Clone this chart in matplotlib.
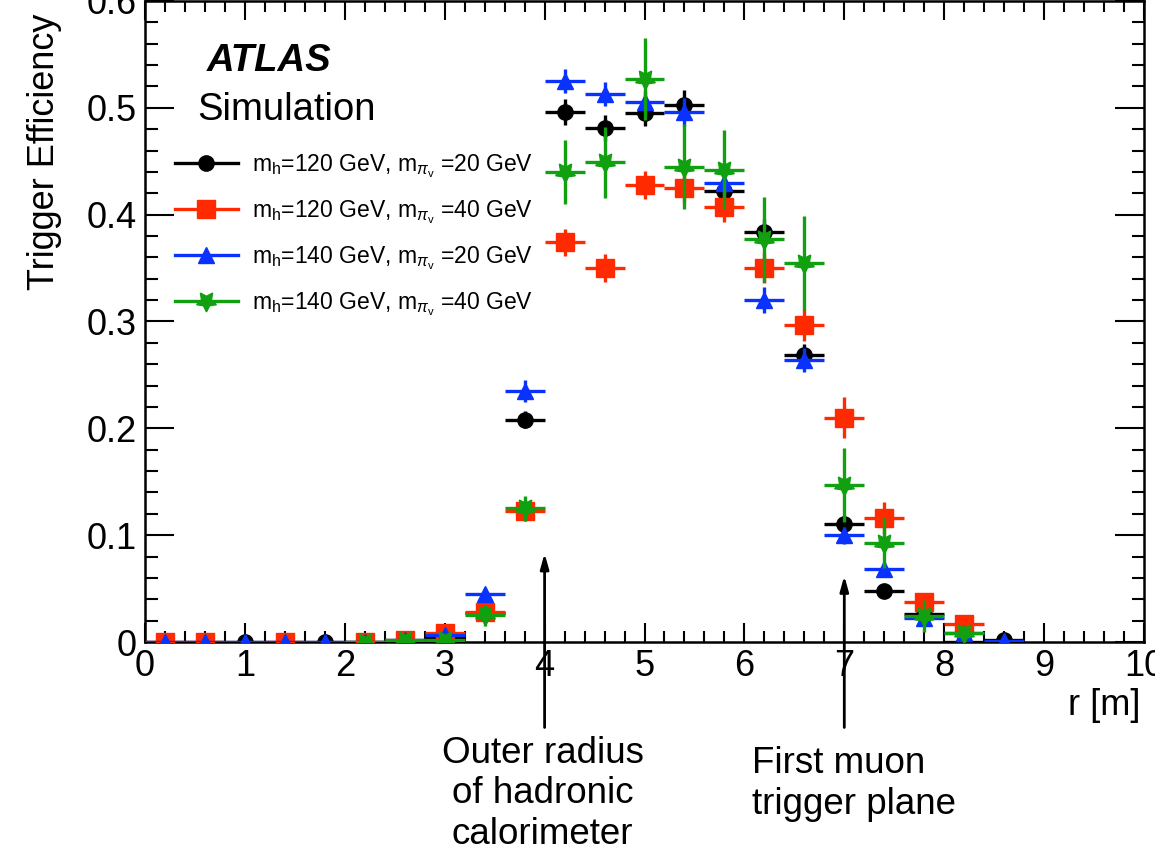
import numpy as np
import matplotlib
matplotlib.use("Agg")
import matplotlib.pyplot as plt
from matplotlib.lines import Line2D
from matplotlib.ticker import MultipleLocator

plt.rcParams["font.family"] = ["Liberation Sans", "DejaVu Sans"]
plt.rcParams["mathtext.fontset"] = "custom"
plt.rcParams["mathtext.rm"] = "Liberation Sans"
plt.rcParams["mathtext.it"] = "Liberation Sans:italic"
plt.rcParams["mathtext.bf"] = "Liberation Sans:bold"

nan = np.nan

# bin centres in r [m], bin half width 0.2 m
r = [0.2, 0.6, 1.0, 1.4, 1.8, 2.2, 2.6, 3.0, 3.4, 3.8, 4.2,
     4.6, 5.0, 5.4, 5.8, 6.2, 6.6, 7.0, 7.4, 7.8, 8.2, 8.6]
r_halfwidth = 0.2

# m_h=120, m_piv=20
eff_120_20 = [0, 0, 0, 0, 0, 0, 0.001, 0.004, 0.027, 0.208, 0.496,
              0.481, 0.495, 0.503, 0.422, 0.384, 0.269, 0.110, 0.048, 0.026, 0.0, 0.002]
err_120_20 = [0, 0, 0, 0, 0, 0, 0.002, 0.003, 0.006, 0.008, 0.012,
              0.012, 0.012, 0.014, 0.012, 0.012, 0.010, 0.008, 0.006, 0.004, 0.002, 0.002]

# m_h=120, m_piv=40
eff_120_40 = [0, 0, nan, 0, nan, 0, 0.002, 0.008, 0.028, 0.123, 0.374,
              0.350, 0.428, 0.425, 0.407, 0.350, 0.297, 0.210, 0.116, 0.037, 0.017, nan]
err_120_40 = [0, 0, 0, 0, 0, 0, 0.002, 0.004, 0.006, 0.010, 0.013,
              0.013, 0.013, 0.013, 0.014, 0.014, 0.015, 0.019, 0.015, 0.008, 0.005, 0]

# m_h=140, m_piv=20
eff_140_20 = [0, 0, 0, 0, 0, 0, 0.002, 0.007, 0.045, 0.235, 0.525,
              0.513, 0.505, 0.496, 0.430, 0.320, 0.264, 0.100, 0.068, 0.022, 0.008, 0.001]
err_140_20 = [0, 0, 0, 0, 0, 0, 0.002, 0.003, 0.006, 0.010, 0.011,
              0.011, 0.011, 0.013, 0.011, 0.012, 0.011, 0.008, 0.007, 0.004, 0.003, 0.001]

# m_h=140, m_piv=40
eff_140_40 = [nan, nan, nan, nan, nan, 0, 0.002, 0.002, 0.025, 0.125, 0.440,
              0.449, 0.527, 0.445, 0.442, 0.377, 0.355, 0.147, 0.093, 0.024, 0.008, nan]
err_140_40 = [0, 0, 0, 0, 0, 0.004, 0.004, 0.005, 0.010, 0.012, 0.030,
              0.033, 0.038, 0.040, 0.037, 0.040, 0.044, 0.035, 0.024, 0.015, 0.008, 0]

labels = [r"m$_{\mathrm{h}}$=120 GeV, m$_{\pi_{\mathrm{v}}}$ =20 GeV",
          r"m$_{\mathrm{h}}$=120 GeV, m$_{\pi_{\mathrm{v}}}$ =40 GeV",
          r"m$_{\mathrm{h}}$=140 GeV, m$_{\pi_{\mathrm{v}}}$ =20 GeV",
          r"m$_{\mathrm{h}}$=140 GeV, m$_{\pi_{\mathrm{v}}}$ =40 GeV"]
colors = ["#000000", "#ff2a00", "#0a32ff", "#10a010"]
markers = ["o", "s", "^", (5, 1, 180)]
msizes = [11, 13, 11, 15]

# detector landmarks
arrow_r = [4.0, 7.0]
arrow_tip = [0.083, 0.062]
arrow_base = -0.08

fig = plt.figure(figsize=(11.55, 8.55), dpi=100)
ax = fig.add_axes([145 / 1155, 213 / 855, 999 / 1155, 641 / 855])

series = [(eff_120_20, err_120_20), (eff_120_40, err_120_40),
          (eff_140_20, err_140_20), (eff_140_40, err_140_40)]
handles = []
for i, (eff, err) in enumerate(series):
    ax.errorbar(r, eff, xerr=r_halfwidth, yerr=err, fmt="none",
                ecolor=colors[i], elinewidth=2.4, capsize=0, zorder=2 + i)
    ax.plot(r, eff, linestyle="none", marker=markers[i], ms=msizes[i],
            color=colors[i], mec=colors[i], zorder=2.5 + i)
    handles.append(Line2D([], [], color=colors[i], lw=2.4, marker=markers[i],
                          ms=msizes[i]))

ax.set_xlim(0, 10)
ax.set_ylim(0, 0.6)
ax.xaxis.set_major_locator(MultipleLocator(1))
ax.xaxis.set_minor_locator(MultipleLocator(0.2))
ax.yaxis.set_major_locator(MultipleLocator(0.1))
ax.yaxis.set_minor_locator(MultipleLocator(0.02))
ax.yaxis.set_major_formatter(plt.FuncFormatter(lambda v, p: "0" if abs(v) < 1e-9 else f"{v:g}"))
ax.tick_params(which="both", direction="in", top=True, right=True, width=1.5,
               labelsize=26)
ax.tick_params(axis="x", which="major", length=14, pad=5)
ax.tick_params(axis="x", which="minor", length=8)
ax.tick_params(axis="y", which="major", length=21, pad=6)
ax.tick_params(axis="y", which="minor", length=9)
for s in ax.spines.values():
    s.set_linewidth(1.8)

fig.text(45 / 1155, 1 - 290 / 855, "Trigger Efficiency", rotation=90,
         ha="center", va="bottom", fontsize=26)
fig.text(1140 / 1155, 1 - 705 / 855, "r [m]", ha="right", va="center", fontsize=26)

ax.text(0.062, 0.906, "ATLAS", transform=ax.transAxes, fontsize=27.5,
        fontweight="bold", fontstyle="italic", va="center", ha="left")
ax.text(0.052, 0.83, "Simulation", transform=ax.transAxes, fontsize=27.5,
        va="center", ha="left")

ax.legend(handles, labels, loc="upper left", bbox_to_anchor=(0.03, 0.764),
          frameon=False, fontsize=16.5, handlelength=2.75, handletextpad=0.6,
          labelspacing=0.8, borderpad=0, borderaxespad=0)

for xr, tip in zip(arrow_r, arrow_tip):
    ax.annotate("", xy=(xr, tip), xytext=(xr, arrow_base),
                arrowprops=dict(arrowstyle="-|>,head_length=0.9,head_width=0.25",
                                color="black", lw=2, shrinkA=0, shrinkB=0),
                annotation_clip=False)

ax.text(3.98, -0.088, "Outer radius\nof hadronic\ncalorimeter", ha="center",
        va="top", multialignment="center", fontsize=26.5, linespacing=1.2,
        clip_on=False)
ax.text(6.08, -0.097, "First muon\ntrigger plane", ha="left", va="top",
        multialignment="left", fontsize=26.5, linespacing=1.22, clip_on=False)

fig.savefig("out.png", dpi=100)
